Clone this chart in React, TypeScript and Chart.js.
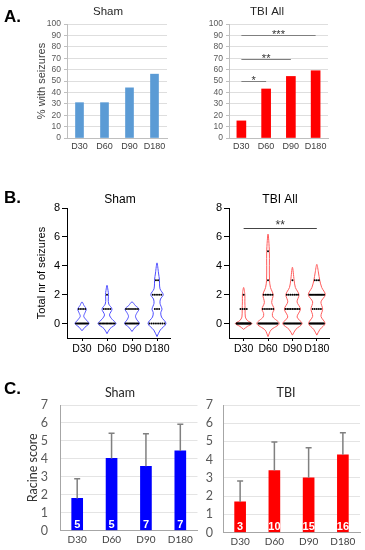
import React, { useEffect, useRef } from "react";
import { Chart, registerables } from "chart.js";

Chart.register(...registerables);

// ---------------- data ----------------
const days = ["D30", "D60", "D90", "D180"];

// Panel A: % with seizures
const pctTicks = [0, 10, 20, 30, 40, 50, 60, 70, 80, 90, 100];
const shamPctSeizures = [31, 31, 44, 56];
const tbiPctSeizures = [15, 43, 54, 59];
const tbiPctSigFrom = [0, 0, 0];
const tbiPctSigTo = [3, 2, 1];
const tbiPctSigLevel = [90, 69, 50];
const tbiPctSigLabel = ["***", "**", "*"];

// Panel B: total number of seizures (violin outline = [value, half width], dot rows = [value, count])
const seizureTicks = [0, 2, 4, 6, 8];
const shamViolins = [
  [[-0.5, 0], [-0.25, 0.12], [0, 0.28], [0.25, 0.17], [0.5, 0.07], [0.75, 0.12], [1, 0.17], [1.25, 0.08], [1.5, 0]],
  [[-0.7, 0], [-0.35, 0.12], [0, 0.36], [0.3, 0.2], [0.6, 0.1], [1, 0.2], [1.35, 0.07], [1.7, 0.05], [2, 0.06], [2.3, 0.04], [2.65, 0]],
  [[-0.55, 0], [-0.25, 0.13], [0, 0.3], [0.25, 0.2], [0.5, 0.14], [0.75, 0.2], [1, 0.28], [1.25, 0.13], [1.5, 0]],
  [[-0.9, 0], [-0.45, 0.13], [0, 0.36], [0.45, 0.18], [0.75, 0.15], [1, 0.2], [1.4, 0.12], [1.7, 0.14], [2, 0.25], [2.4, 0.12], [2.8, 0.1], [3, 0.1], [3.5, 0.06], [4.2, 0]],
];
const shamDotRows = [
  [[0, 12], [1, 4]],
  [[0, 12], [1, 4], [2, 1]],
  [[0, 12], [1, 7]],
  [[0, 8], [1, 3], [2, 5], [3, 2]],
];
const tbiViolins = [
  [[-0.4, 0], [-0.2, 0.15], [0, 0.34], [0.2, 0.16], [0.45, 0.07], [1, 0.06], [1.5, 0.05], [2, 0.05], [2.5, 0]],
  [[-0.9, 0], [-0.45, 0.12], [0, 0.46], [0.45, 0.2], [0.7, 0.18], [1, 0.25], [1.45, 0.15], [2, 0.21], [2.5, 0.1], [3, 0.06], [4, 0.055], [5, 0.055], [6.2, 0]],
  [[-0.8, 0], [-0.4, 0.14], [0, 0.4], [0.45, 0.19], [1, 0.33], [1.5, 0.19], [2, 0.27], [2.5, 0.12], [3, 0.07], [3.9, 0]],
  [[-0.8, 0], [-0.4, 0.13], [0, 0.34], [0.5, 0.17], [1, 0.24], [1.5, 0.17], [2, 0.35], [2.5, 0.2], [3, 0.12], [3.5, 0.07], [4.1, 0]],
];
const tbiDotRows = [
  [[0, 26], [1, 4], [2, 1]],
  [[0, 26], [1, 6], [2, 6], [3, 1], [5, 1]],
  [[0, 20], [1, 9], [2, 7], [3, 1]],
  [[0, 20], [1, 5], [2, 14], [3, 3]],
];
const tbiCountSigFrom = [0];
const tbiCountSigTo = [3];
const tbiCountSigLevel = [6.6];
const tbiCountSigLabel = ["**"];

// Panel C: Racine score
const racineTicks = [0, 1, 2, 3, 4, 5, 6, 7];
const shamRacine = [1.79, 4.02, 3.58, 4.44];
const shamRacineUpper = [2.88, 5.43, 5.39, 5.93];
const shamN = [5, 5, 7, 7];
const tbiRacine = [1.68, 3.4, 3.0, 4.27];
const tbiRacineUpper = [2.83, 4.97, 4.65, 5.48];
const tbiN = [3, 10, 15, 16];

// ---------------- helpers ----------------
const ARIAL = '"Liberation Sans", Arial, sans-serif';
const CALIBRI = 'Lato, "Open Sans", sans-serif';
const DOT_STEP = 0.085;

function halfWidthAt(profile: number[][], v: number) {
  for (let i = 0; i < profile.length - 1; i++) {
    const [v0, w0] = profile[i];
    const [v1, w1] = profile[i + 1];
    if (v >= v0 && v <= v1) return w0 + ((v - v0) / (v1 - v0)) * (w1 - w0);
  }
  return 0;
}

function violinPoints(profile: number[][], idx: number) {
  const right = profile.map(([v, w]) => ({ x: idx + w, y: v }));
  const left = profile
    .slice()
    .reverse()
    .map(([v, w]) => ({ x: idx - w, y: v }));
  return [...right, ...left.slice(1)];
}

function dotPoints(rows: number[][], profile: number[][], idx: number) {
  const pts: { x: number; y: number }[] = [];
  rows.forEach(([v, n]) => {
    const natural = (n - 1) * DOT_STEP;
    const cap = Math.max(1.7 * halfWidthAt(profile, v), Math.min(natural, 0.3));
    const width = Math.min(natural, cap);
    const step = n > 1 ? width / (n - 1) : 0;
    for (let k = 0; k < n; k++) pts.push({ x: idx + (k - (n - 1) / 2) * step, y: v });
  });
  return pts;
}

function titlePlugin(text: string, x: number, y: number, font: string, color: string) {
  return {
    id: "panelTitle",
    afterDraw(chart: any) {
      const ctx = chart.ctx;
      ctx.save();
      ctx.font = font;
      ctx.fillStyle = color;
      ctx.textAlign = "center";
      ctx.textBaseline = "middle";
      ctx.fillText(text, x, y);
      ctx.restore();
    },
  };
}

function sigPlugin(from: number[], to: number[], level: number[], label: string[], lineColor: string, font: string, dy: number) {
  return {
    id: "sigLines",
    afterDatasetsDraw(chart: any) {
      const ctx = chart.ctx;
      const xs = chart.scales.x;
      const ys = chart.scales.y;
      ctx.save();
      ctx.strokeStyle = lineColor;
      ctx.lineWidth = 1;
      ctx.fillStyle = "#333";
      ctx.font = font;
      ctx.textAlign = "center";
      ctx.textBaseline = "alphabetic";
      from.forEach((f, i) => {
        const x1 = xs.getPixelForValue(f);
        const x2 = xs.getPixelForValue(to[i]);
        const y = Math.round(ys.getPixelForValue(level[i])) + 0.5;
        ctx.beginPath();
        ctx.moveTo(x1, y);
        ctx.lineTo(x2, y);
        ctx.stroke();
        ctx.fillText(label[i], (x1 + x2) / 2, y + dy);
      });
      ctx.restore();
    },
  };
}

function errorPlugin(upper: number[], counts: number[]) {
  return {
    id: "errAndCounts",
    afterDatasetsDraw(chart: any) {
      const ctx = chart.ctx;
      const xs = chart.scales.x;
      const ys = chart.scales.y;
      const meta = chart.getDatasetMeta(0);
      ctx.save();
      ctx.strokeStyle = "#808080";
      ctx.lineWidth = 1.5;
      upper.forEach((u, i) => {
        const x = xs.getPixelForValue(i);
        const yTop = ys.getPixelForValue(u);
        const yBar = meta.data[i].y;
        ctx.beginPath();
        ctx.moveTo(x, yBar);
        ctx.lineTo(x, yTop);
        ctx.moveTo(x - 3, yTop);
        ctx.lineTo(x + 3, yTop);
        ctx.stroke();
      });
      ctx.fillStyle = "#ffffff";
      ctx.font = `bold 11px ${ARIAL}`;
      ctx.textAlign = "center";
      ctx.textBaseline = "middle";
      counts.forEach((n, i) => {
        const x = xs.getPixelForValue(i);
        const y0 = ys.getPixelForValue(0);
        ctx.fillText(String(n), x, y0 - 6);
      });
      ctx.restore();
    },
  };
}

const noPlugins = { legend: { display: false }, tooltip: { enabled: false }, title: { display: false } };

// ---------------- configs ----------------
function pctConfig(values: number[], color: string, barW: number, pad: any, yWidth: number, withTitle: boolean, extraPlugins: any[]) {
  return {
    type: "bar",
    data: { labels: days, datasets: [{ data: values, backgroundColor: color, barThickness: barW }] },
    options: {
      animation: false,
      responsive: false,
      layout: { padding: pad },
      plugins: noPlugins,
      scales: {
        x: {
          grid: { display: false, drawTicks: false },
          border: { color: "#bfbfbf" },
          ticks: { font: { family: ARIAL, size: 9 }, color: "#404040", padding: 3, maxRotation: 0, autoSkip: false },
          afterFit: (s: any) => { s.height = 16; },
        },
        y: {
          min: 0,
          max: 100,
          afterBuildTicks: (s: any) => { s.ticks = pctTicks.map((v) => ({ value: v })); },
          grid: { color: "#dedede", tickLength: 3, tickColor: "#bfbfbf" },
          border: { color: "#bfbfbf" },
          ticks: { font: { family: ARIAL, size: 8.5 }, color: "#595959", padding: 3, autoSkip: false },
          title: { display: withTitle, text: "% with seizures", font: { family: ARIAL, size: 11 }, color: "#404040", padding: 0 },
          afterFit: (s: any) => { s.width = yWidth; },
        },
      },
    },
    plugins: extraPlugins,
  };
}

function violinConfig(violins: number[][][], dots: number[][][], lineColor: string, pad: any, yWidth: number, withTitle: boolean, extraPlugins: any[]) {
  const dotSets = dots.map((rows, i) => ({
    data: dotPoints(rows, violins[i], i),
    pointRadius: 1,
    pointBorderWidth: 0,
    pointBackgroundColor: "#000",
    showLine: false,
    order: 0,
  }));
  const violinSets = violins.map((p, i) => ({
    data: violinPoints(p, i),
    showLine: true,
    borderColor: lineColor,
    borderWidth: 1,
    pointRadius: 0,
    tension: 0.3,
    fill: false,
    order: 1,
  }));
  return {
    type: "scatter",
    data: { datasets: [...dotSets, ...violinSets] },
    options: {
      animation: false,
      responsive: false,
      layout: { padding: pad },
      plugins: noPlugins,
      scales: {
        x: {
          type: "linear",
          min: -0.6,
          max: 3.52,
          afterBuildTicks: (s: any) => { s.ticks = days.map((_, i) => ({ value: i })); },
          grid: { display: true, drawOnChartArea: false, tickLength: 3, color: "#000" },
          border: { color: "#000", width: 1 },
          ticks: { callback: (v: number) => days[v], font: { family: ARIAL, size: 10.5 }, color: "#000", padding: 2, maxRotation: 0, autoSkip: false },
          afterFit: (s: any) => { s.height = 14; },
        },
        y: {
          min: -1,
          max: 8,
          afterBuildTicks: (s: any) => { s.ticks = seizureTicks.map((v) => ({ value: v })); },
          grid: { display: true, drawOnChartArea: false, tickLength: 5, color: "#000" },
          border: { color: "#000", width: 1 },
          ticks: { font: { family: ARIAL, size: 11 }, color: "#000", padding: 2, autoSkip: false },
          title: { display: withTitle, text: "Total nr of seizures", font: { family: ARIAL, size: 11 }, color: "#000", padding: 0 },
          afterFit: (s: any) => { s.width = yWidth; },
        },
      },
    },
    plugins: extraPlugins,
  };
}

function racineConfig(values: number[], color: string, pad: any, yWidth: number, tickPad: number, withTitle: boolean, extraPlugins: any[]) {
  return {
    type: "bar",
    data: { labels: days, datasets: [{ data: values, backgroundColor: color, barThickness: 11 }] },
    options: {
      animation: false,
      responsive: false,
      layout: { padding: pad },
      plugins: noPlugins,
      scales: {
        x: {
          grid: { display: false, drawTicks: false },
          border: { color: "#a6a6a6" },
          ticks: { font: { family: CALIBRI, size: 10 }, color: "#404040", padding: 3, maxRotation: 0, autoSkip: false },
          afterFit: (s: any) => { s.height = 14; },
        },
        y: {
          min: 0,
          max: 7,
          afterBuildTicks: (s: any) => { s.ticks = racineTicks.map((v) => ({ value: v })); },
          grid: { color: "#e4e4e4", drawTicks: false },
          border: { color: "#a6a6a6" },
          ticks: { font: { family: CALIBRI, size: 12.5 }, color: "#595959", padding: tickPad, autoSkip: false },
          title: { display: withTitle, text: "Racine score", font: { family: CALIBRI, size: 12.5 }, color: "#333", padding: 0 },
          afterFit: (s: any) => { s.width = yWidth; },
        },
      },
    },
    plugins: extraPlugins,
  };
}

// ---------------- components ----------------
function Panel(props: { left: number; top: number; width: number; height: number; make: () => any }) {
  const ref = useRef<HTMLCanvasElement | null>(null);
  useEffect(() => {
    const chart = new Chart(ref.current as HTMLCanvasElement, props.make());
    return () => chart.destroy();
  }, []);
  return (
    <canvas
      ref={ref}
      width={props.width}
      height={props.height}
      style={{ position: "absolute", left: props.left, top: props.top, width: props.width, height: props.height }}
    />
  );
}

const letterStyle = (top: number): React.CSSProperties => ({
  position: "absolute",
  left: 4,
  top,
  font: `bold 17px ${ARIAL}`,
  lineHeight: "20px",
  color: "#000",
});

export default function App() {
  const titleA = `11.5px ${ARIAL}`;
  const titleC = `12.5px ${CALIBRI}`;
  return (
    <div style={{ position: "absolute", left: 0, top: 0, width: 365, height: 550, background: "#fff", overflow: "hidden" }}>
      <Panel
        left={0}
        top={0}
        width={180}
        height={160}
        make={() =>
          pctConfig(shamPctSeizures, "#5B9BD5", 8, { left: 35, top: 24, right: 13, bottom: 6 }, 32, true, [
            titlePlugin("Sham", 108, 12, titleA, "#262626"),
          ])
        }
      />
      <Panel
        left={180}
        top={0}
        width={185}
        height={160}
        make={() =>
          pctConfig(tbiPctSeizures, "#FF0000", 9, { left: 20, top: 24, right: 37, bottom: 6 }, 29, false, [
            titlePlugin("TBI All", 87, 12, titleA, "#262626"),
            sigPlugin(tbiPctSigFrom, tbiPctSigTo, tbiPctSigLevel, tbiPctSigLabel, "#7f7f7f", `11px ${ARIAL}`, 2.7),
          ])
        }
      />
      <Panel
        left={0}
        top={185}
        width={180}
        height={175}
        make={() =>
          violinConfig(shamViolins, shamDotRows, "#4d4dff", { left: 35, top: 23, right: 10, bottom: 8 }, 32, true, [
            titlePlugin("Sham", 120, 15, `12px ${ARIAL}`, "#000"),
          ])
        }
      />
      <Panel
        left={180}
        top={185}
        width={185}
        height={175}
        make={() =>
          violinConfig(tbiViolins, tbiDotRows, "#ff5c5c", { left: 20, top: 23, right: 35.5, bottom: 8 }, 29, false, [
            titlePlugin("TBI All", 100, 15, `12px ${ARIAL}`, "#000"),
            sigPlugin(tbiCountSigFrom, tbiCountSigTo, tbiCountSigLevel, tbiCountSigLabel, "#444", `12px ${ARIAL}`, 0.7),
          ])
        }
      />
      <Panel
        left={0}
        top={370}
        width={200}
        height={180}
        make={() =>
          racineConfig(shamRacine, "#0000FF", { left: 25, top: 35, right: 2.5, bottom: 3 }, 35, 12, true, [
            titlePlugin("Sham", 120, 23, titleC, "#262626"),
            errorPlugin(shamRacineUpper, shamN),
          ])
        }
      />
      <Panel
        left={195}
        top={370}
        width={170}
        height={180}
        make={() =>
          racineConfig(tbiRacine, "#FF0000", { left: 10, top: 35, right: 5, bottom: 3 }, 18, 10, false, [
            titlePlugin("TBI", 91, 23, titleC, "#262626"),
            errorPlugin(tbiRacineUpper, tbiN),
          ])
        }
      />
      <div style={letterStyle(7)}>A.</div>
      <div style={letterStyle(188)}>B.</div>
      <div style={letterStyle(379)}>C.</div>
    </div>
  );
}
